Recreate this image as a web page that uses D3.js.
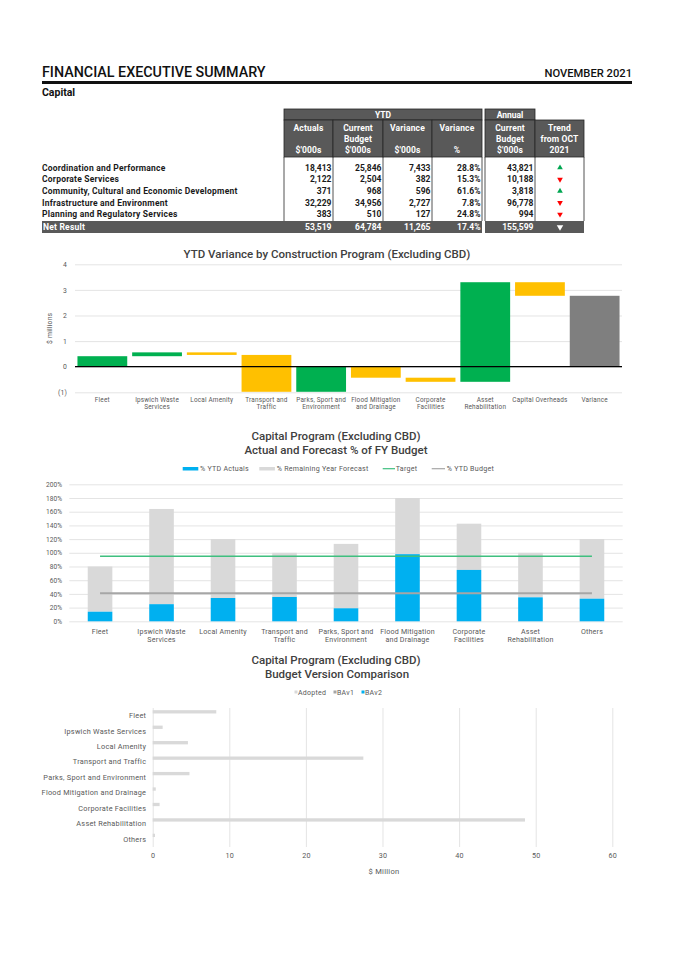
<!DOCTYPE html>
<html>
<head>
<meta charset="utf-8">
<script src="https://cdn.jsdelivr.net/npm/d3@7"></script>
<style>
  body { margin: 0; background: #fff; }
  svg { font-family: Roboto, "Noto Sans", sans-serif; }
</style>
</head>
<body>
<svg id="page" width="675" height="955"></svg>
<script>
// ---- table data ----
const divisions = ["Coordination and Performance", "Corporate Services",
  "Community, Cultural and Economic Development", "Infrastructure and Environment",
  "Planning and Regulatory Services"];
const ytdActuals = [18413, 2122, 371, 32229, 383];
const ytdBudget = [25846, 2504, 968, 34956, 510];
const ytdVariance = [7433, 382, 596, 2727, 127];
const ytdVariancePct = [28.8, 15.3, 61.6, 7.8, 24.8];
const annualBudget = [43821, 10188, 3818, 96778, 994];
const trend = ["up", "down", "up", "down", "down"];
const netResult = [53519, 64784, 11265, 17.4, 155599];
const netTrend = "down";

// ---- waterfall data ($ millions) ----
const wfCategories = ["Fleet", "Ipswich Waste\nServices", "Local Amenity", "Transport and\nTraffic",
  "Parks, Sport and\nEnvironment", "Flood Mitigation\nand Drainage", "Corporate\nFacilities",
  "Asset\nRehabilitation", "Capital Overheads", "Variance"];
const wfChanges = [0.41, 0.15, -0.10, -1.44, 0.98, -0.43, -0.16, 3.89, -0.53];
const wfTotal = 2.77;
const wfTicks = [-1, 0, 1, 2, 3, 4];

// ---- actual and forecast % data ----
const progCategories = ["Fleet", "Ipswich Waste\nServices", "Local Amenity", "Transport and\nTraffic",
  "Parks, Sport and\nEnvironment", "Flood Mitigation\nand Drainage", "Corporate\nFacilities",
  "Asset\nRehabilitation", "Others"];
const pctYtdActuals = [14, 25, 34, 35.5, 19, 98, 75, 35, 33];
const pctRemaining = [66, 139, 86, 64.5, 94, 82, 67.5, 65, 87];
const targetPct = 95;
const ytdBudgetPct = 41;
const pctTicks = [0, 20, 40, 60, 80, 100, 120, 140, 160, 180, 200];

// ---- budget version data ($ million) ----
const versionCategories = ["Fleet", "Ipswich Waste Services", "Local Amenity", "Transport and Traffic",
  "Parks, Sport and Environment", "Flood Mitigation and Drainage", "Corporate Facilities",
  "Asset Rehabilitation", "Others"];
const versions = ["Adopted", "BAv1", "BAv2"];
const adopted = [8.3, 1.3, 4.6, 27.5, 4.8, 0.4, 0.9, 48.6, 0.3];
const bav1 = [0, 0, 0, 0, 0, 0, 0, 0, 0];
const bav2 = [0, 0, 0, 0, 0, 0, 0, 0, 0];
const millionTicks = [0, 10, 20, 30, 40, 50, 60];

const GREEN = "#00b050", YELLOW = "#ffc000", GREY = "#7f7f7f", BLUE = "#00b0f0",
  LIGHT = "#d9d9d9", HEAD = "#595959", TXT = "#595959";

const svg = d3.select("#page");
const fmt = d3.format(",");

// ---- page header ----
svg.append("text").attr("x", 42).attr("y", 77).attr("font-size", 14.3).attr("font-weight", 500)
  .attr("fill", "#111").text("FINANCIAL EXECUTIVE SUMMARY");
svg.append("text").attr("x", 632).attr("y", 77).attr("text-anchor", "end").attr("font-size", 11.2)
  .attr("font-weight", 500).attr("fill", "#111").text("NOVEMBER 2021");
svg.append("rect").attr("x", 42).attr("y", 81).attr("width", 590).attr("height", 3).attr("fill", "#111");
svg.append("text").attr("x", 42).attr("y", 96).attr("font-size", 10.5).attr("font-weight", 700)
  .attr("fill", "#111").text("Capital");

// ---- table ----
const cols = [[284, 333], [333, 383], [383, 432], [432, 482], [485, 535], [535, 584]];
const colHeads = [["Actuals", "", "$'000s"], ["Current", "Budget", "$'000s"], ["Variance", "", "$'000s"],
  ["Variance", "", "%"], ["Current", "Budget", "$'000s"], ["Trend", "from OCT", "2021"]];
const tbl = svg.append("g").attr("font-size", 8.5).attr("font-weight", 700);

tbl.append("rect").attr("x", 284).attr("y", 109).attr("width", 198).attr("height", 11)
  .attr("fill", HEAD).attr("stroke", "#262626").attr("stroke-width", 0.8);
tbl.append("text").attr("x", 383).attr("y", 117.5).attr("text-anchor", "middle").attr("fill", "#fff").text("YTD");
tbl.append("rect").attr("x", 485).attr("y", 109).attr("width", 50).attr("height", 11)
  .attr("fill", HEAD).attr("stroke", "#262626").attr("stroke-width", 0.8);
tbl.append("text").attr("x", 510).attr("y", 117.5).attr("text-anchor", "middle").attr("fill", "#fff").text("Annual");

const head = tbl.selectAll("g.head").data(cols).join("g").attr("class", "head");
head.append("rect").attr("x", d => d[0]).attr("y", 120).attr("width", d => d[1] - d[0]).attr("height", 37)
  .attr("fill", HEAD).attr("stroke", "#262626").attr("stroke-width", 0.8);
head.each(function (d, i) {
  colHeads[i].forEach((t, j) => {
    d3.select(this).append("text").attr("x", (d[0] + d[1]) / 2).attr("y", 130.5 + j * 11.2)
      .attr("text-anchor", "middle").attr("fill", "#fff").attr("letter-spacing", 0.15).text(t);
  });
});

// body column lines
const edges = [284, 333, 383, 432, 482, 485, 535, 584];
tbl.selectAll("line.col").data(edges).join("line").attr("class", "col")
  .attr("x1", d => d).attr("x2", d => d).attr("y1", 157).attr("y2", 221)
  .attr("stroke", "#262626").attr("stroke-width", 0.8);

const rowY = d3.scalePoint().domain(divisions).range([167.7, 214.3]);
const bodyCols = [ytdActuals, ytdBudget, ytdVariance, ytdVariancePct, annualBudget];
divisions.forEach((name, r) => {
  const y = rowY(name);
  tbl.append("text").attr("x", 42).attr("y", y + 3).attr("fill", "#1a1a1a").attr("letter-spacing", 0.22).text(name);
  bodyCols.forEach((arr, c) => {
    const v = arr[r];
    tbl.append("text").attr("x", cols[c][1] - 1.5).attr("y", y + 3).attr("text-anchor", "end")
      .attr("fill", "#1a1a1a").text(c === 3 ? v.toFixed(1) + "%" : fmt(v));
  });
  tbl.append("path").attr("d", d3.symbol(d3.symbolTriangle, 14)())
    .attr("transform", `translate(560,${y}) rotate(${trend[r] === "up" ? 0 : 180})`)
    .attr("fill", trend[r] === "up" ? "#00a651" : "#ff0000");
});

// net result row
tbl.append("rect").attr("x", 42).attr("y", 221).attr("width", 440).attr("height", 12).attr("fill", HEAD);
tbl.append("rect").attr("x", 485).attr("y", 221).attr("width", 99).attr("height", 12).attr("fill", HEAD);
tbl.append("text").attr("x", 43).attr("y", 230).attr("fill", "#fff").attr("letter-spacing", 0.22).text("Net Result");
netResult.forEach((v, c) => {
  tbl.append("text").attr("x", cols[c][1] - 1.5).attr("y", 230).attr("text-anchor", "end")
    .attr("fill", "#fff").text(c === 3 ? v.toFixed(1) + "%" : fmt(v));
});
tbl.append("path").attr("d", d3.symbol(d3.symbolTriangle, 18)())
  .attr("transform", `translate(560,227) rotate(${netTrend === "up" ? 0 : 180})`).attr("fill", "#fff");

// helper: multi-line category labels
function splitLabels(sel, lineGap) {
  sel.selectAll(".tick text").each(function (d) {
    const t = d3.select(this);
    const parts = d.split("\n");
    t.text(null);
    parts.forEach((p, i) => t.append("tspan").attr("x", 0).attr("dy", i === 0 ? "0.71em" : lineGap).text(p));
  });
}
function styleAxis(g, size, spacing) {
  g.attr("font-family", null).attr("font-size", size);
  g.select(".domain").remove();
  g.selectAll(".tick text").attr("fill", TXT).attr("letter-spacing", spacing || 0);
}

// ---- chart 1 : waterfall ----
svg.append("text").attr("x", 327).attr("y", 258).attr("text-anchor", "middle").attr("font-size", 11.5)
  .attr("font-weight", 500).attr("fill", "#404040").text("YTD Variance by Construction Program (Excluding CBD)");

const wfX = d3.scaleBand().domain(wfCategories).range([75, 622]).paddingInner(0.09).paddingOuter(0.045);
const wfY = d3.scaleLinear().domain([-1, 4]).range([392.3, 264.3]);

const wfGrid = svg.append("g").attr("transform", "translate(75,0)")
  .call(d3.axisLeft(wfY).tickValues(wfTicks).tickSize(-547).tickPadding(8)
    .tickFormat(d => d < 0 ? `(${-d})` : d));
styleAxis(wfGrid, 6.8, 0.2);
wfGrid.selectAll(".tick line").attr("stroke", LIGHT).attr("stroke-width", 0.7);

svg.append("text").attr("transform", `translate(52,${wfY(1.5)}) rotate(-90)`).attr("text-anchor", "middle")
  .attr("font-size", 6.8).attr("letter-spacing", 0.2).attr("fill", TXT).text("$ millions");

let run = 0;
const wfBars = wfChanges.map((v, i) => {
  const s = run; run += v;
  return { cat: wfCategories[i], a: s, b: run, color: v >= 0 ? GREEN : YELLOW };
});
wfBars.push({ cat: wfCategories[9], a: 0, b: wfTotal, color: GREY });

svg.append("g").selectAll("rect").data(wfBars).join("rect")
  .attr("x", d => wfX(d.cat)).attr("width", wfX.bandwidth())
  .attr("y", d => wfY(Math.max(d.a, d.b))).attr("height", d => Math.abs(wfY(d.a) - wfY(d.b)))
  .attr("fill", d => d.color);

svg.append("line").attr("x1", 75).attr("x2", 622).attr("y1", wfY(0)).attr("y2", wfY(0))
  .attr("stroke", "#000").attr("stroke-width", 1.3);

const wfAxis = svg.append("g").attr("transform", "translate(0,397)")
  .call(d3.axisBottom(wfX).tickSize(0).tickPadding(0));
styleAxis(wfAxis, 6.4, 0.2);
splitLabels(wfAxis, "1.15em");

// ---- chart 2 : actual and forecast % ----
svg.append("text").attr("x", 336).attr("y", 440).attr("text-anchor", "middle").attr("font-size", 11.5)
  .attr("font-weight", 500).attr("fill", "#404040").text("Capital Program (Excluding CBD)");
svg.append("text").attr("x", 336).attr("y", 453.5).attr("text-anchor", "middle").attr("font-size", 11.5)
  .attr("font-weight", 500).attr("fill", "#404040").text("Actual and Forecast % of FY Budget");

const pX = d3.scaleBand().domain(progCategories).range([69.3, 622.7]).paddingInner(0.6).paddingOuter(0.3);
const pY = d3.scaleLinear().domain([0, 200]).range([621.3, 484.3]);

const pGrid = svg.append("g").attr("transform", "translate(69.3,0)")
  .call(d3.axisLeft(pY).tickValues(pctTicks).tickSize(-553.4).tickPadding(7).tickFormat(d => d + "%"));
styleAxis(pGrid, 6.6, 0.1);
pGrid.selectAll(".tick line").attr("stroke", LIGHT).attr("stroke-width", 0.7);

const pBars = svg.append("g");
pBars.selectAll("rect.rem").data(progCategories).join("rect").attr("class", "rem")
  .attr("x", d => pX(d)).attr("width", pX.bandwidth())
  .attr("y", (d, i) => pY(pctYtdActuals[i] + pctRemaining[i]))
  .attr("height", (d, i) => pY(pctYtdActuals[i]) - pY(pctYtdActuals[i] + pctRemaining[i]))
  .attr("fill", LIGHT);
pBars.selectAll("rect.act").data(progCategories).join("rect").attr("class", "act")
  .attr("x", d => pX(d)).attr("width", pX.bandwidth())
  .attr("y", (d, i) => pY(pctYtdActuals[i])).attr("height", (d, i) => pY(0) - pY(pctYtdActuals[i]))
  .attr("fill", BLUE);

const cx0 = pX(progCategories[0]) + pX.bandwidth() / 2;
const cx1 = pX(progCategories[progCategories.length - 1]) + pX.bandwidth() / 2;
svg.append("line").attr("x1", cx0).attr("x2", cx1).attr("y1", pY(ytdBudgetPct)).attr("y2", pY(ytdBudgetPct))
  .attr("stroke", "#a6a6a6").attr("stroke-width", 2);
svg.append("line").attr("x1", cx0).attr("x2", cx1).attr("y1", pY(targetPct)).attr("y2", pY(targetPct))
  .attr("stroke", "#3fbf7f").attr("stroke-width", 1.5);

const pAxis = svg.append("g").attr("transform", "translate(0,628.5)")
  .call(d3.axisBottom(pX).tickSize(0).tickPadding(0));
styleAxis(pAxis, 7.1, 0.2);
splitLabels(pAxis, "1.2em");

// legend 2
const leg2 = svg.append("g").attr("font-size", 7.1).attr("letter-spacing", 0.25).attr("fill", TXT);
leg2.append("rect").attr("x", 182.7).attr("y", 467).attr("width", 15.6).attr("height", 3.5).attr("fill", BLUE);
leg2.append("text").attr("x", 200).attr("y", 471.2).text("% YTD Actuals");
leg2.append("rect").attr("x", 259.3).attr("y", 467).attr("width", 15.6).attr("height", 3.5).attr("fill", LIGHT);
leg2.append("text").attr("x", 276.7).attr("y", 471.2).text("% Remaining Year Forecast");
leg2.append("line").attr("x1", 382.7).attr("x2", 395).attr("y1", 468.7).attr("y2", 468.7)
  .attr("stroke", "#3fbf7f").attr("stroke-width", 1.2);
leg2.append("text").attr("x", 395.7).attr("y", 471.2).text("Target");
leg2.append("line").attr("x1", 431.7).attr("x2", 445).attr("y1", 468.7).attr("y2", 468.7)
  .attr("stroke", "#a6a6a6").attr("stroke-width", 1.2);
leg2.append("text").attr("x", 446.7).attr("y", 471.2).text("% YTD Budget");

// ---- chart 3 : budget versions ----
svg.append("text").attr("x", 336).attr("y", 663.5).attr("text-anchor", "middle").attr("font-size", 11.5)
  .attr("font-weight", 500).attr("fill", "#404040").text("Capital Program (Excluding CBD)");
svg.append("text").attr("x", 337).attr("y", 677.5).attr("text-anchor", "middle").attr("font-size", 11.5)
  .attr("font-weight", 500).attr("fill", "#404040").text("Budget Version Comparison");

const vX = d3.scaleLinear().domain([0, 60]).range([152.7, 612.3]);
const vY = d3.scaleBand().domain(versionCategories).range([708, 847]);
const vSub = d3.scaleBand().domain(versions).range([vY.bandwidth() * 0.14, vY.bandwidth() * 0.86]).paddingInner(0.15);
const vColor = d3.scaleOrdinal().domain(versions).range([LIGHT, "#a6a6a6", BLUE]);
const vSeries = [adopted, bav1, bav2];

const vGrid = svg.append("g").attr("transform", "translate(0,847)")
  .call(d3.axisBottom(vX).tickValues(millionTicks).tickSize(-139).tickPadding(6));
styleAxis(vGrid, 7.2, 0.2);
vGrid.selectAll(".tick line").attr("stroke", LIGHT).attr("stroke-width", 0.7);

const vBars = svg.append("g");
versions.forEach((ver, k) => {
  vBars.selectAll(`rect.v${k}`).data(versionCategories).join("rect").attr("class", `v${k}`)
    .attr("x", vX(0)).attr("y", d => vY(d) + vSub(ver))
    .attr("width", (d, i) => vX(vSeries[k][i]) - vX(0)).attr("height", vSub.bandwidth())
    .attr("fill", vColor(ver));
});

const vAxis = svg.append("g").attr("transform", "translate(152.7,0)")
  .call(d3.axisLeft(vY).tickSize(0).tickPadding(6.5));
styleAxis(vAxis, 7.3, 0.25);

svg.append("text").attr("x", 384).attr("y", 873.5).attr("text-anchor", "middle").attr("font-size", 7.6)
  .attr("letter-spacing", 0.25).attr("fill", TXT).text("$ Million");

// legend 3
const leg3 = svg.append("g").attr("font-size", 7).attr("letter-spacing", 0.25).attr("fill", TXT);
[[294.5, 298, "Adopted"], [333.5, 337, "BAv1"], [361.5, 365, "BAv2"]].forEach((p, k) => {
  leg3.append("rect").attr("x", p[0]).attr("y", 690.5).attr("width", 3).attr("height", 3).attr("fill", vColor(versions[k]));
  leg3.append("text").attr("x", p[1]).attr("y", 694.5).text(p[2]);
});
</script>
</body>
</html>
